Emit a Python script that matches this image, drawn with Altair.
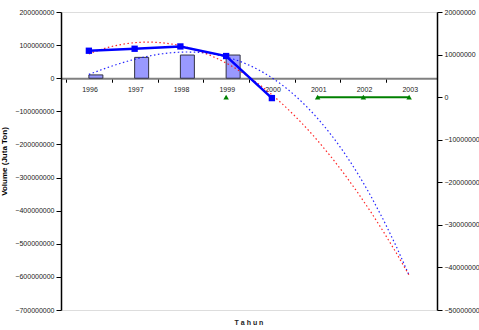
import altair as alt
import pandas as pd

# Yearly series (Volume, ton)
years = [1996, 1997, 1998, 1999, 2000, 2001, 2002, 2003]
bar_years = [1996, 1997, 1998, 1999, 2000]
bar_values = [10000000, 63000000, 70000000, 70000000, 0]
line_years = [1996, 1997, 1998, 1999, 2000]
line_values = [83000000, 89000000, 96000000, 67000000, -60000000]
green_values = [None, None, None, 0, None, 0, 0, 0]

left_ticks = list(range(-700000000, 200000001, 100000000))
right_ticks = list(range(-50000000, 20000001, 10000000))
year_ticks = [y - 0.5 for y in years]

bars_df = pd.DataFrame({"year": bar_years, "v": bar_values})
line_df = pd.DataFrame({"year": line_years, "v": line_values})
green_df = pd.DataFrame({"year": years, "v": green_values})

FONT = "Liberation Sans"
W, H = 376, 298

x_scale = alt.Scale(domain=[1995.5, 2003.5], nice=False, zero=False)
x_axis = alt.Axis(
    values=year_ticks,
    labelExpr="format(datum.value + 0.5, 'd')",
    labelOffset=23.5,
    labelFlush=False,
    labelOverlap=False,
    labelFontSize=7,
    labelFont=FONT,
    labelColor="#222222",
    labelPadding=3,
    tickSize=4,
    tickColor="#000000",
    domainColor="#808080",
    domainWidth=2,
    grid=False,
    title=None,
    offset=-H * 7 / 9,
)
left_scale = alt.Scale(domain=[-700000000, 200000000], nice=False, zero=False)
left_axis = alt.Axis(
    values=left_ticks,
    format="d",
    labelFontSize=7,
    labelFont=FONT,
    labelColor="#222222",
    tickSize=5,
    tickColor="#000000",
    domainColor="#000000",
    domainWidth=1.5,
    grid=False,
    title="Volume (Juta Ton)",
    titleFontSize=8,
    titleFont=FONT,
    titleFontWeight="bold",
    titlePadding=6,
)
right_scale = alt.Scale(domain=[-50000000, 20000000], nice=False, zero=False)
right_axis = alt.Axis(
    orient="right",
    values=right_ticks,
    format="d",
    labelFontSize=7,
    labelFont=FONT,
    labelColor="#222222",
    tickSize=5,
    tickColor="#000000",
    domainColor="#000000",
    domainWidth=1.5,
    grid=False,
    title=None,
)

x_enc = alt.X("year:Q", scale=x_scale, axis=x_axis)
y_enc = alt.Y("v:Q", scale=left_scale, axis=left_axis)
y_right = alt.Y("v:Q", scale=right_scale, axis=right_axis)

bars = (
    alt.Chart(bars_df)
    .transform_filter("datum.v != 0")
    .mark_bar(width=14, xOffset=7, color="#9999ff", stroke="#333344", strokeWidth=1)
    .encode(x=x_enc, y=y_enc)
)

bar_trend = (
    alt.Chart(bars_df)
    .transform_regression("year", "v", method="poly", order=3, extent=[1996, 2003])
    .mark_line(color="#0000ff", strokeWidth=1.2, strokeDash=[1.5, 2.5], opacity=0.85)
    .encode(x=x_enc, y=y_enc)
)

line_trend = (
    alt.Chart(line_df)
    .transform_regression("year", "v", method="poly", order=2, extent=[1996, 2003])
    .mark_line(color="#ff0000", strokeWidth=1.2, strokeDash=[1.5, 2.5], opacity=0.85)
    .encode(x=x_enc, y=y_enc)
)

blue_line = alt.Chart(line_df).mark_line(color="#0000ff", strokeWidth=2.5).encode(x=x_enc, y=y_enc)
blue_pts = (
    alt.Chart(line_df)
    .mark_point(shape="square", filled=True, size=40, color="#0000ff", opacity=1)
    .encode(x=x_enc, y=y_enc)
)

left = alt.layer(bars, bar_trend, line_trend, blue_line, blue_pts)

green_line = (
    alt.Chart(green_df)
    .mark_line(color="#008000", strokeWidth=2)
    .encode(x=x_enc, y=y_right)
)
green_pts = (
    alt.Chart(green_df)
    .transform_filter("isValid(datum.v)")
    .mark_point(shape="triangle-up", filled=True, size=30, color="#008000", opacity=1)
    .encode(x=x_enc, y=y_right)
)
right = alt.layer(green_line, green_pts)

chart = (
    alt.layer(left, right)
    .resolve_scale(y="independent")
    .properties(
        width=W,
        height=H,
        autosize=alt.AutoSizeParams(type="none"),
        padding={"left": 61, "top": 12, "right": 42, "bottom": 20},
        title=alt.TitleParams(
            "T a h u n",
            orient="bottom",
            anchor="middle",
            fontSize=7,
            font=FONT,
            fontWeight="bold",
            color="#222222",
            offset=6,
        ),
    )
    .configure_view(stroke="#808080", strokeWidth=1)
    .configure(background="white")
)

chart.save("out.html", embed_options={"renderer": "svg", "actions": False})
